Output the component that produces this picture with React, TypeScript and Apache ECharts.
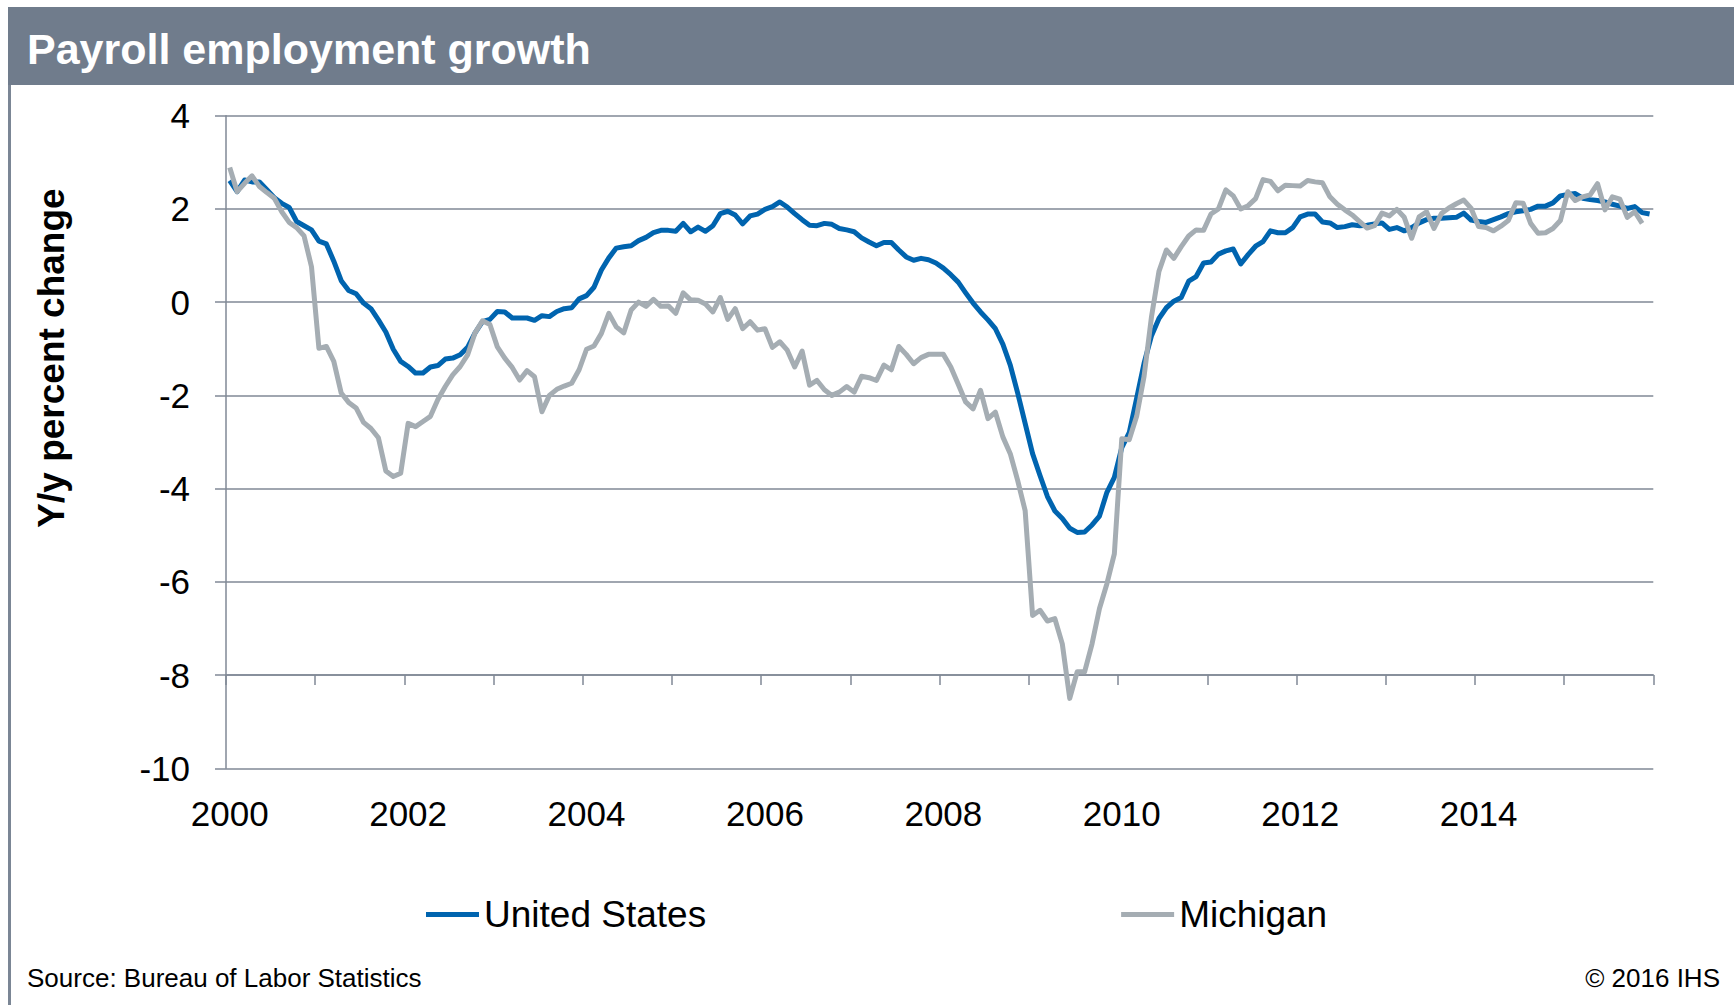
import React, { useEffect, useRef } from 'react';
import * as echarts from 'echarts';

// ---------- data ----------
const START_YEAR = 2000;
const END_YEAR = 2015;
const months: string[] = [];
for (let y = START_YEAR; y <= END_YEAR; y++) {
  for (let m = 1; m <= 12; m++) months.push(`${y}-${String(m).padStart(2, '0')}`);
}

// Y/y percent change, monthly from Jan 2000
const unitedStates = [
  2.61, 2.37, 2.62, 2.58, 2.58, 2.41, 2.24, 2.12, 2.03, 1.73,
  1.64, 1.55, 1.31, 1.25, 0.88, 0.46, 0.25, 0.18, -0.02, -0.14,
  -0.38, -0.64, -1.01, -1.27, -1.38, -1.52, -1.52, -1.39, -1.36, -1.22,
  -1.2, -1.13, -0.97, -0.66, -0.42, -0.37, -0.2, -0.21, -0.34, -0.34,
  -0.34, -0.39, -0.29, -0.31, -0.2, -0.14, -0.12, 0.07, 0.14, 0.32,
  0.69, 0.95, 1.16, 1.19, 1.21, 1.32, 1.39, 1.49, 1.54, 1.54,
  1.52, 1.69, 1.51, 1.61, 1.52, 1.64, 1.9, 1.95, 1.87, 1.68,
  1.85, 1.89, 1.99, 2.05, 2.15, 2.04, 1.9, 1.77, 1.65, 1.64,
  1.69, 1.67, 1.58, 1.55, 1.51, 1.38, 1.29, 1.21, 1.28, 1.28,
  1.12, 0.97, 0.9, 0.94, 0.91, 0.84, 0.73, 0.59, 0.43, 0.2,
  -0.02, -0.21, -0.38, -0.57, -0.9, -1.35, -1.95, -2.6, -3.25, -3.72,
  -4.17, -4.48, -4.64, -4.85, -4.94, -4.93, -4.78, -4.59, -4.08, -3.76,
  -3.12, -2.8, -2.06, -1.31, -0.72, -0.35, -0.12, 0.02, 0.1, 0.45,
  0.55, 0.84, 0.86, 1.03, 1.1, 1.14, 0.82, 1.02, 1.2, 1.3,
  1.53, 1.49, 1.49, 1.6, 1.83, 1.89, 1.89, 1.72, 1.7, 1.6,
  1.62, 1.66, 1.64, 1.65, 1.68, 1.7, 1.56, 1.6, 1.53, 1.6,
  1.7, 1.77, 1.8, 1.8, 1.81, 1.82, 1.91, 1.76, 1.73, 1.71,
  1.77, 1.83, 1.9, 1.94, 1.96, 1.99, 2.06, 2.06, 2.13, 2.28,
  2.31, 2.33, 2.23, 2.2, 2.18, 2.15, 2.1, 2.06, 2.01, 2.05,
  1.92, 1.89,
];

const michigan = [
  2.89, 2.37, 2.55, 2.71, 2.48, 2.35, 2.23, 1.94, 1.71, 1.6,
  1.42, 0.76, -0.99, -0.95, -1.27, -1.95, -2.15, -2.27, -2.58, -2.71,
  -2.91, -3.62, -3.74, -3.67, -2.6, -2.67, -2.56, -2.45, -2.09, -1.81,
  -1.56, -1.38, -1.13, -0.66, -0.4, -0.48, -0.96, -1.2, -1.4, -1.67,
  -1.47, -1.6, -2.35, -2.0, -1.87, -1.8, -1.74, -1.45, -1.01, -0.94,
  -0.67, -0.24, -0.53, -0.66, -0.17, 0.0, -0.09, 0.06, -0.09, -0.08,
  -0.24, 0.2, 0.05, 0.04, -0.04, -0.21, 0.1, -0.37, -0.14, -0.57,
  -0.42, -0.6, -0.57, -0.97, -0.85, -1.03, -1.39, -1.05, -1.78, -1.68,
  -1.88, -2.0, -1.93, -1.81, -1.93, -1.59, -1.62, -1.68, -1.35, -1.45,
  -0.95, -1.12, -1.32, -1.19, -1.12, -1.12, -1.12, -1.39, -1.76, -2.14,
  -2.29, -1.89, -2.5, -2.36, -2.89, -3.25, -3.83, -4.47, -6.72, -6.61,
  -6.84, -6.79, -7.33, -8.5, -7.93, -7.93, -7.33, -6.57, -6.04, -5.4,
  -2.93, -2.95, -2.45, -1.59, -0.31, 0.66, 1.12, 0.94, 1.19, 1.42,
  1.55, 1.54, 1.89, 2.0, 2.41, 2.28, 2.0, 2.07, 2.22, 2.63,
  2.59, 2.39, 2.51, 2.5, 2.49, 2.61, 2.58, 2.56, 2.26, 2.1,
  1.98, 1.87, 1.73, 1.59, 1.64, 1.91, 1.85, 1.99, 1.82, 1.37,
  1.83, 1.94, 1.58, 1.9, 2.02, 2.11, 2.19, 2.01, 1.62, 1.6,
  1.53, 1.63, 1.75, 2.13, 2.12, 1.69, 1.48, 1.49, 1.58, 1.75,
  2.37, 2.18, 2.26, 2.3, 2.54, 1.98, 2.26, 2.21, 1.82, 1.94,
  1.69,
];

const Y_MIN = -10;
const Y_MAX = 4;
const Y_STEP = 2;
const X_AXIS_CROSS = -8; // value where the horizontal axis (with ticks) crosses
const SERIES_NAMES = ['United States', 'Michigan'];
const TITLE = 'Payroll employment growth';
const Y_TITLE = 'Y/y percent change';
const SOURCE = 'Source: Bureau of Labor Statistics';
const COPYRIGHT = '\u00a9 2016 IHS';

// ---------- styles / layout ----------
const W = 1734;
const H = 1005;
const FONT = '"Liberation Sans", Arial, Helvetica, sans-serif';
const BLUE = '#0064AF';
const GREY = '#A5ADB3';
const GRID_COLOR = '#808996';
const HEADER = '#707C8C';
const PLOT_LEFT = 226;
const PLOT_TOP = 115.7;
const PLOT_W = 1427.3;
const PLOT_H = 652.6;

export default function App() {
  const ref = useRef<HTMLDivElement>(null);

  useEffect(() => {
    if (!ref.current) return;
    const chart = echarts.init(ref.current, null, { renderer: 'svg', width: W, height: H });
    const crossH = (PLOT_H * (Y_MAX - X_AXIS_CROSS)) / (Y_MAX - Y_MIN);
    const nMonths = months.length;

    const option: any = {
      animation: false,
      backgroundColor: '#ffffff',
      textStyle: { fontFamily: FONT },
      grid: [
        { left: PLOT_LEFT, top: PLOT_TOP, width: PLOT_W, height: PLOT_H, containLabel: false },
        { left: PLOT_LEFT, top: PLOT_TOP, width: PLOT_W, height: crossH, containLabel: false },
      ],
      xAxis: [
        {
          type: 'category',
          gridIndex: 0,
          data: months,
          boundaryGap: true,
          axisLine: { show: false },
          axisTick: { show: false },
          splitLine: { show: false },
          axisLabel: {
            interval: (i: number) => i % 24 === 0,
            formatter: (v: string) => v.slice(0, 4),
            fontSize: 35,
            color: '#000',
            fontFamily: FONT,
            margin: 28,
          },
        },
        {
          type: 'value',
          gridIndex: 1,
          min: 0,
          max: nMonths,
          interval: 12,
          axisLine: { show: true, lineStyle: { color: GRID_COLOR, width: 1.5 } },
          axisTick: { show: true, inside: false, length: 10, lineStyle: { color: GRID_COLOR, width: 1.5 } },
          axisLabel: { show: false },
          splitLine: { show: false },
        },
      ],
      yAxis: [
        {
          type: 'value',
          gridIndex: 0,
          min: Y_MIN,
          max: Y_MAX,
          interval: Y_STEP,
          axisLine: { show: true, lineStyle: { color: GRID_COLOR, width: 1.5 } },
          axisTick: { show: true, length: 11, lineStyle: { color: GRID_COLOR, width: 1.5 } },
          axisLabel: { fontSize: 35, color: '#000', fontFamily: FONT, margin: 36 },
          splitLine: { show: true, lineStyle: { color: GRID_COLOR, width: 1.5 } },
        },
        { type: 'value', gridIndex: 1, min: 0, max: 1, show: false },
      ],
      legend: {
        data: SERIES_NAMES,
        left: 426,
        top: 896,
        padding: 0,
        icon: 'rect',
        itemWidth: 53,
        itemHeight: 5,
        itemGap: 415,
        textStyle: { fontSize: 37, color: '#000', fontFamily: FONT },
      },
      series: [
        {
          name: SERIES_NAMES[0],
          type: 'line',
          xAxisIndex: 0,
          yAxisIndex: 0,
          data: unitedStates,
          symbol: 'none',
          showSymbol: false,
          itemStyle: { color: BLUE },
          lineStyle: { color: BLUE, width: 5, join: 'round' },
        },
        {
          name: SERIES_NAMES[1],
          type: 'line',
          xAxisIndex: 0,
          yAxisIndex: 0,
          data: michigan,
          symbol: 'none',
          showSymbol: false,
          itemStyle: { color: GREY },
          lineStyle: { color: GREY, width: 5, join: 'round' },
        },
      ],
      graphic: [
        { type: 'rect', left: 8, top: 7, shape: { x: 0, y: 0, width: W - 8, height: 78 }, style: { fill: HEADER }, z: 10 },
        { type: 'rect', shape: { x: 8, y: 85, width: 3, height: H - 85 }, style: { fill: '#7B8695' }, z: 10 },
        {
          type: 'text', x: 27, y: 49, z: 11,
          style: { text: TITLE, fill: '#ffffff', font: `bold 43px ${FONT}`, textAlign: 'left', textVerticalAlign: 'middle' },
        },
        {
          type: 'text', x: 51, y: 358, rotation: Math.PI / 2, z: 11,
          style: { text: Y_TITLE, fill: '#000', font: `bold 37px ${FONT}`, textAlign: 'center', textVerticalAlign: 'middle' },
        },
        {
          type: 'text', x: 27, y: 978, z: 11,
          style: { text: SOURCE, fill: '#000', font: `26px ${FONT}`, textAlign: 'left', textVerticalAlign: 'middle' },
        },
        {
          type: 'text', x: 1720, y: 978, z: 11,
          style: { text: COPYRIGHT, fill: '#000', font: `26px ${FONT}`, textAlign: 'right', textVerticalAlign: 'middle' },
        },
      ],
    };

    chart.setOption(option);
    return () => chart.dispose();
  }, []);

  return (
    <div
      ref={ref}
      style={{ position: 'absolute', left: 0, top: 0, width: W, height: H, background: '#fff' }}
    />
  );
}
